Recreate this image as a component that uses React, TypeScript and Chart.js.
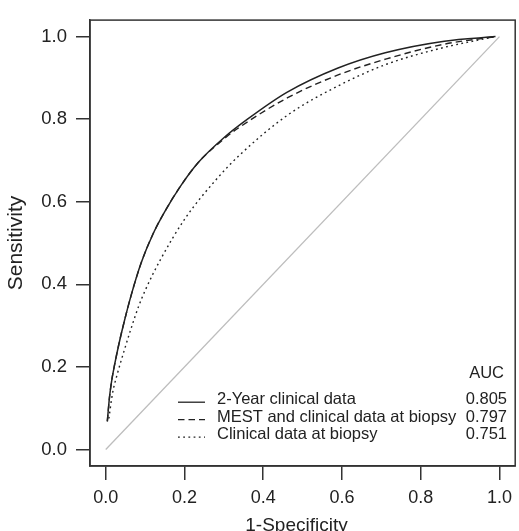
import React, { useEffect, useRef } from "react";
import { Chart, registerables } from "chart.js";

Chart.register(...registerables);

// ---- data ----
const tickValues = [0, 0.2, 0.4, 0.6, 0.8, 1.0];

const solidX = [0.004, 0.008, 0.0105, 0.016, 0.022, 0.034, 0.047, 0.065, 0.09, 0.12, 0.151, 0.19, 0.235, 0.30, 0.36, 0.46, 0.59, 0.71, 0.86, 0.99];
const solidY = [0.068, 0.112, 0.135, 0.172, 0.203, 0.258, 0.31, 0.375, 0.452, 0.522, 0.578, 0.638, 0.695, 0.755, 0.80, 0.865, 0.924, 0.961, 0.989, 1.0];

const dashedX = [0.004, 0.008, 0.0105, 0.016, 0.022, 0.034, 0.047, 0.065, 0.09, 0.12, 0.151, 0.19, 0.235, 0.30, 0.336, 0.462, 0.587, 0.713, 0.856, 0.99];
const dashedY = [0.068, 0.112, 0.135, 0.172, 0.203, 0.258, 0.31, 0.375, 0.452, 0.522, 0.578, 0.638, 0.695, 0.752, 0.778, 0.852, 0.906, 0.946, 0.981, 1.0];

const dottedX = [0.008, 0.017, 0.030, 0.047, 0.065, 0.084, 0.10, 0.139, 0.202, 0.277, 0.34, 0.462, 0.587, 0.713, 0.856, 0.99];
const dottedY = [0.075, 0.135, 0.185, 0.24, 0.295, 0.348, 0.385, 0.46, 0.56, 0.65, 0.713, 0.81, 0.879, 0.933, 0.973, 1.0];

const diagX = [0, 1];
const diagY = [0, 1];

const seriesNames = ["2-Year clinical data", "MEST and clinical data at biopsy", "Clinical data at biopsy"];
const aucValues = ["0.805", "0.797", "0.751"];
const xTitle = "1-Specificity";
const yTitle = "Sensitivity";

const FONT = "'Liberation Sans', Arial, Helvetica, sans-serif";
const INK = "#222";
const DASH = [6.5, 4];
const DOT = [1.8, 3.4];

const toPts = (xs: number[], ys: number[]) => xs.map((x, i) => ({ x, y: ys[i] }));

const boxLegendPlugin = {
  id: "boxLegend",
  afterDatasetsDraw(chart: any) {
    const { ctx, chartArea } = chart;
    const { left, top, right, bottom } = chartArea;
    ctx.save();
    ctx.strokeStyle = "#333";
    ctx.lineWidth = 1.5;
    ctx.setLineDash([]);
    ctx.strokeRect(left, top, right - left, bottom - top);

    // legend
    const dashes = [[], DASH, DOT];
    const lineX0 = 178;
    const lineX1 = 205;
    const textX = 217;
    const valRight = 507;
    const baselines = [404, 421.5, 439];
    ctx.font = `16.5px ${FONT}`;
    ctx.fillStyle = INK;
    ctx.textBaseline = "alphabetic";
    ctx.textAlign = "right";
    ctx.fillText("AUC", 504, 378.3);
    for (let i = 0; i < 3; i++) {
      const b = baselines[i];
      ctx.strokeStyle = INK;
      ctx.lineWidth = 1.3;
      ctx.setLineDash(dashes[i]);
      ctx.beginPath();
      ctx.moveTo(lineX0, b - 1.8);
      ctx.lineTo(lineX1, b - 1.8);
      ctx.stroke();
      ctx.setLineDash([]);
      ctx.textAlign = "left";
      ctx.fillText(seriesNames[i], textX, b);
      ctx.textAlign = "right";
      ctx.fillText(aucValues[i], valRight, b);
    }

    // axis titles
    ctx.textAlign = "center";
    ctx.font = `19px ${FONT}`;
    ctx.fillText(xTitle, 296.5, 530.5);
    ctx.translate(16.5, 243);
    ctx.rotate(-Math.PI / 2);
    ctx.textBaseline = "middle";
    ctx.font = `21px ${FONT}`;
    ctx.fillText(yTitle, 0, 0);
    ctx.restore();
  },
};

export default function App() {
  const ref = useRef<HTMLCanvasElement | null>(null);
  useEffect(() => {
    if (!ref.current) return;
    const setTicks = (axis: any) => {
      axis.ticks = tickValues.map((v) => ({ value: v }));
    };
    const chart = new Chart(ref.current, {
      type: "line",
      data: {
        datasets: [
          {
            label: "diag",
            data: toPts(diagX, diagY),
            borderColor: "#bdbdbd",
            borderWidth: 1.3,
            pointRadius: 0,
            fill: false,
          },
          {
            label: seriesNames[2],
            data: toPts(dottedX, dottedY),
            borderColor: INK,
            borderWidth: 1.4,
            borderDash: DOT,
            pointRadius: 0,
            cubicInterpolationMode: "monotone",
            fill: false,
          },
          {
            label: seriesNames[1],
            data: toPts(dashedX, dashedY),
            borderColor: INK,
            borderWidth: 1.4,
            borderDash: DASH,
            pointRadius: 0,
            cubicInterpolationMode: "monotone",
            fill: false,
          },
          {
            label: seriesNames[0],
            data: toPts(solidX, solidY),
            borderColor: INK,
            borderWidth: 1.5,
            pointRadius: 0,
            cubicInterpolationMode: "monotone",
            fill: false,
          },
        ],
      },
      options: {
        animation: false,
        responsive: false,
        devicePixelRatio: 1,
        layout: { padding: { top: 14, right: 1, left: 0, bottom: 0 } },
        plugins: { legend: { display: false }, tooltip: { enabled: false } },
        scales: {
          x: {
            type: "linear",
            min: -0.04,
            max: 1.04,
            afterBuildTicks: setTicks,
            afterFit: (s: any) => { s.height = 65; },
            grid: { drawOnChartArea: false, drawTicks: true, tickLength: 14, color: "#333", lineWidth: 1.5 },
            border: { display: true, color: "#333", width: 1.5 },
            ticks: {
              padding: 7,
              color: INK,
              font: { family: FONT, size: 18 },
              callback: (v: any) => Number(v).toFixed(1),
              maxRotation: 0,
            },
            title: { display: false },
          },
          y: {
            type: "linear",
            min: -0.04,
            max: 1.04,
            afterBuildTicks: setTicks,
            afterFit: (s: any) => { s.width = 90; },
            grid: { drawOnChartArea: false, drawTicks: true, tickLength: 14, color: "#333", lineWidth: 1.5 },
            border: { display: true, color: "#333", width: 1.5 },
            ticks: {
              padding: 9,
              color: INK,
              font: { family: FONT, size: 18.5 },
              callback: (v: any) => Number(v).toFixed(1),
            },
            title: { display: false },
          },
        },
      },
      plugins: [boxLegendPlugin],
    } as any);
    return () => chart.destroy();
  }, []);
  return (
    <div style={{ position: "absolute", left: 0, top: 0, width: 519, height: 531, background: "#fff" }}>
      <canvas ref={ref} width={519} height={531} style={{ display: "block" }} />
    </div>
  );
}
